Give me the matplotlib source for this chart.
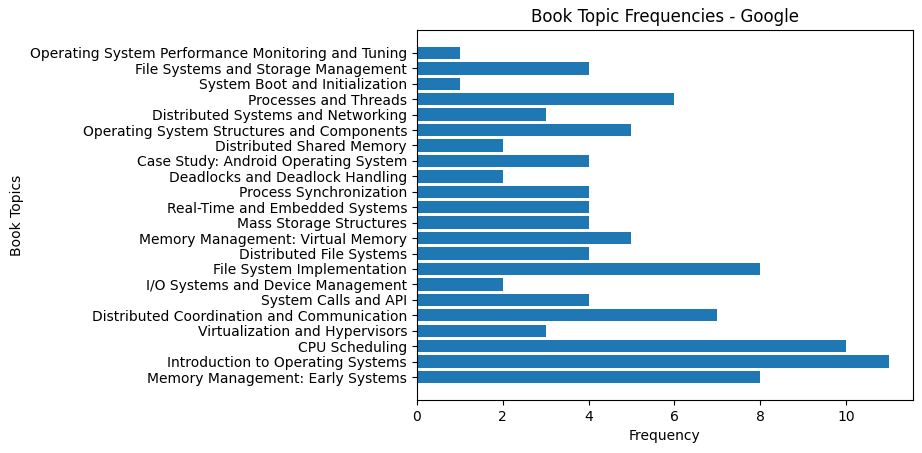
import matplotlib
matplotlib.use("Agg")
import matplotlib.pyplot as plt

# topics listed bottom to top, as barh draws them
topics = [
    "Memory Management: Early Systems",
    "Introduction to Operating Systems",
    "CPU Scheduling",
    "Virtualization and Hypervisors",
    "Distributed Coordination and Communication",
    "System Calls and API",
    "I/O Systems and Device Management",
    "File System Implementation",
    "Distributed File Systems",
    "Memory Management: Virtual Memory",
    "Mass Storage Structures",
    "Real-Time and Embedded Systems",
    "Process Synchronization",
    "Deadlocks and Deadlock Handling",
    "Case Study: Android Operating System",
    "Distributed Shared Memory",
    "Operating System Structures and Components",
    "Distributed Systems and Networking",
    "Processes and Threads",
    "System Boot and Initialization",
    "File Systems and Storage Management",
    "Operating System Performance Monitoring and Tuning",
]
frequencies = [8, 11, 10, 3, 7, 4, 2, 8, 4, 5, 4, 4, 4, 2, 4, 2, 5, 3, 6, 1, 4, 1]

fig, ax = plt.subplots(figsize=(9.22, 4.53), dpi=100)
fig.subplots_adjust(left=0.452, right=0.990, top=0.934, bottom=0.117)

ax.barh(topics, frequencies, color="#1f77b4")
ax.set_xlabel("Frequency")
ax.set_ylabel("Book Topics")
ax.set_title("Book Topic Frequencies - Google")

fig.savefig("out.png", dpi=100)
